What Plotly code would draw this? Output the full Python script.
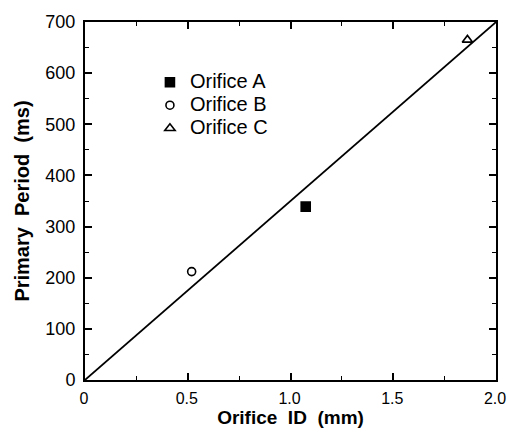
import plotly.graph_objects as go

names = ["Orifice A", "Orifice B", "Orifice C"]
orifice_id = [1.074, 0.519, 1.861]
period = [339, 212, 665]
symbols = ["square", "circle-open", "triangle-up-open"]
sizes = [9, 8, 9]

fit_x = [0.0, 2.0]
fit_y = [0.0, 700.0]

x_ticks = [0, 0.5, 1.0, 1.5, 2.0]
x_ticktext = ["0", "0.5", "1.0", "1.5", "2.0"]
x_minor = [0.25, 0.75, 1.25, 1.75]
y_ticks = [0, 100, 200, 300, 400, 500, 600, 700]
y_minor = [50, 150, 250, 350, 450, 550, 650]

FONT = "Liberation Sans"
SP = "\u00a0\u00a0"

fig = go.Figure()
fig.add_trace(go.Scatter(x=fit_x, y=fit_y, mode="lines",
                         line=dict(color="black", width=1.7), showlegend=False))
for n, xv, yv, s, sz in zip(names, orifice_id, period, symbols, sizes):
    fig.add_trace(go.Scatter(x=[xv], y=[yv], mode="markers",
                             name='<span style="font-size:20px">' + n + '</span>',
                             marker=dict(symbol=s, size=sz, color="black",
                                         line=dict(color="black", width=1.6))))

axis_common = dict(showline=True, linecolor="black", linewidth=2, mirror="ticks",
                   ticks="inside", ticklen=7, tickwidth=1.5, tickcolor="black",
                   showgrid=False, zeroline=False, ticklabeloverflow="allow",
                   automargin=False)

fig.update_xaxes(range=[0, 2.0], tickvals=x_ticks, ticktext=x_ticktext,
                 minor=dict(tickvals=x_minor, ticks="inside", ticklen=4,
                            tickwidth=1.3, tickcolor="black"),
                 ticklabelstandoff=3, ticklabelshift=-1,
                 tickfont=dict(family=FONT, size=16, color="black"),
                 title=dict(text="<b>Orifice" + SP + "ID" + SP + "(mm)</b>",
                            font=dict(family=FONT, size=19, color="black"), standoff=1),
                 **axis_common)
fig.update_yaxes(range=[0, 700], tickvals=y_ticks,
                 minor=dict(tickvals=y_minor, ticks="inside", ticklen=4,
                            tickwidth=1.3, tickcolor="black"),
                 ticklabelstandoff=4,
                 tickfont=dict(family=FONT, size=18, color="black"),
                 title=dict(text="<b>Primary" + SP + "Period" + SP + "(ms)</b>",
                            font=dict(family=FONT, size=20, color="black"), standoff=10),
                 **axis_common)

fig.update_layout(
    width=507, height=436,
    margin=dict(l=85, r=11, t=22, b=56),
    paper_bgcolor="white", plot_bgcolor="white",
    font=dict(family=FONT, color="black"),
    legend=dict(x=0.158, y=0.878, xanchor="left", yanchor="top",
                bgcolor="rgba(0,0,0,0)", font=dict(family=FONT, size=15.4, color="black"),
                itemwidth=30, tracegroupgap=0),
)

fig.write_html("out.html")
